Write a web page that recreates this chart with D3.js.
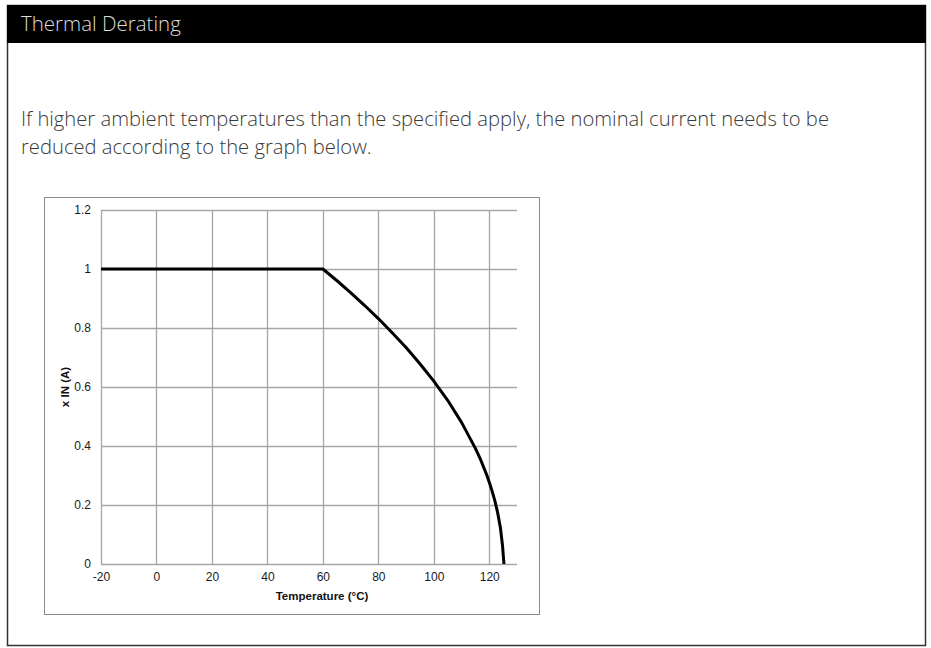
<!DOCTYPE html>
<html>
<head>
<meta charset="utf-8">
<script src="https://cdn.jsdelivr.net/npm/d3@7"></script>
<style>
  html, body { margin: 0; padding: 0; background: #fff; }
  svg { display: block; }
</style>
</head>
<body>
<svg id="chart" width="931" height="648"></svg>
<script>
// ---- data ----
const titleText = "Thermal Derating";
const paragraphLines = [
  "If higher ambient temperatures than the specified apply, the nominal current needs to be",
  "reduced according to the graph below."
];
const xTicks = [-20, 0, 20, 40, 60, 80, 100, 120];
const xTickLabels = ["-20", "0", "20", "40", "60", "80", "100", "120"];
const yTicks = [0, 0.2, 0.4, 0.6, 0.8, 1, 1.2];
const yTickLabels = ["0", "0.2", "0.4", "0.6", "0.8", "1", "1.2"];
const temperature = [-20, 60, 65, 70, 75, 80, 85, 90, 95, 100, 105, 110, 115, 117, 119, 120, 121, 122, 123, 124, 124.8, 125.3];
const currentFactor = [1, 1, 0.961, 0.92, 0.877, 0.832, 0.784, 0.734, 0.679, 0.62, 0.555, 0.48, 0.392, 0.351, 0.304, 0.277, 0.248, 0.215, 0.175, 0.124, 0.06, 0];
const xTitle = "Temperature (°C)";
const yTitle = "x IN (A)";

// ---- drawing ----
const svg = d3.select("#chart");

// outer frame
svg.append("rect").attr("x", 7.5).attr("y", 5.5).attr("width", 918).attr("height", 640)
  .attr("fill", "#fff").attr("stroke", "#333").attr("stroke-width", 1.5);
// header band
svg.append("rect").attr("x", 7).attr("y", 5).attr("width", 919).attr("height", 38).attr("fill", "#000");
svg.append("text").attr("x", 21).attr("y", 31)
  .attr("font-family", "'Open Sans', sans-serif").attr("font-weight", 300)
  .attr("font-size", 20.5).attr("fill", "#dcdcdc").text(titleText);

// paragraph
svg.selectAll("text.para").data(paragraphLines).enter().append("text")
  .attr("class", "para")
  .attr("x", 21).attr("y", (d, i) => 126 + i * 28)
  .attr("font-family", "'Open Sans', sans-serif").attr("font-weight", 300)
  .attr("font-size", 20.2).attr("fill", "#3a3a3a").text(d => d);

// chart box
svg.append("rect").attr("x", 44.5).attr("y", 197.5).attr("width", 495).attr("height", 417)
  .attr("fill", "#fff").attr("stroke", "#8c8c8c").attr("stroke-width", 1);

const x = d3.scaleLinear().domain([-20, 130]).range([101, 517]);
const y = d3.scaleLinear().domain([0, 1.2]).range([564, 210]);

const gridColor = "#a6a6a6";
const g = svg.append("g");

// horizontal gridlines
g.selectAll("line.hg").data(yTicks).enter().append("line")
  .attr("x1", x(-20)).attr("x2", x(130))
  .attr("y1", d => Math.round(y(d)) + 0.5).attr("y2", d => Math.round(y(d)) + 0.5)
  .attr("stroke", gridColor).attr("stroke-width", 1.3);
// vertical gridlines
g.selectAll("line.vg").data(xTicks).enter().append("line")
  .attr("x1", d => Math.round(x(d)) + 0.5).attr("x2", d => Math.round(x(d)) + 0.5)
  .attr("y1", y(1.2)).attr("y2", y(0))
  .attr("stroke", gridColor).attr("stroke-width", 1.3);

// axes labels via d3 axes (no tick lines)
const xAxis = d3.axisBottom(x).tickValues(xTicks).tickSize(0).tickPadding(8)
  .tickFormat((d, i) => xTickLabels[i]);
const yAxis = d3.axisLeft(y).tickValues(yTicks).tickSize(0).tickPadding(10)
  .tickFormat((d, i) => yTickLabels[i]);

const gx = svg.append("g").attr("transform", `translate(0,${y(0)})`).call(xAxis);
const gy = svg.append("g").attr("transform", `translate(${x(-20)},0)`).call(yAxis);
[gx, gy].forEach(a => {
  a.select(".domain").remove();
  a.selectAll("text").attr("font-family", "'Liberation Sans', Arial, sans-serif")
    .attr("font-size", 12).attr("fill", "#1a1a1a");
});

// curve
const line = d3.line().x(d => x(d[0])).y(d => y(d[1])).curve(d3.curveLinear);
const pts = temperature.map((t, i) => [t, currentFactor[i]]);
svg.append("path").datum(pts).attr("d", line)
  .attr("fill", "none").attr("stroke", "#000").attr("stroke-width", 3)
  .attr("stroke-linejoin", "round");

// axis titles
svg.append("text").attr("x", 322).attr("y", 600).attr("text-anchor", "middle")
  .attr("font-family", "'Liberation Sans', Arial, sans-serif").attr("font-weight", "bold")
  .attr("font-size", 11.5).attr("fill", "#111").text(xTitle);
svg.append("text").attr("transform", `translate(69,${(y(0) + y(1.2)) / 2}) rotate(-90)`)
  .attr("text-anchor", "middle")
  .attr("font-family", "'Liberation Sans', Arial, sans-serif").attr("font-weight", "bold")
  .attr("font-size", 11.5).attr("fill", "#111").text(yTitle);
</script>
</body>
</html>
